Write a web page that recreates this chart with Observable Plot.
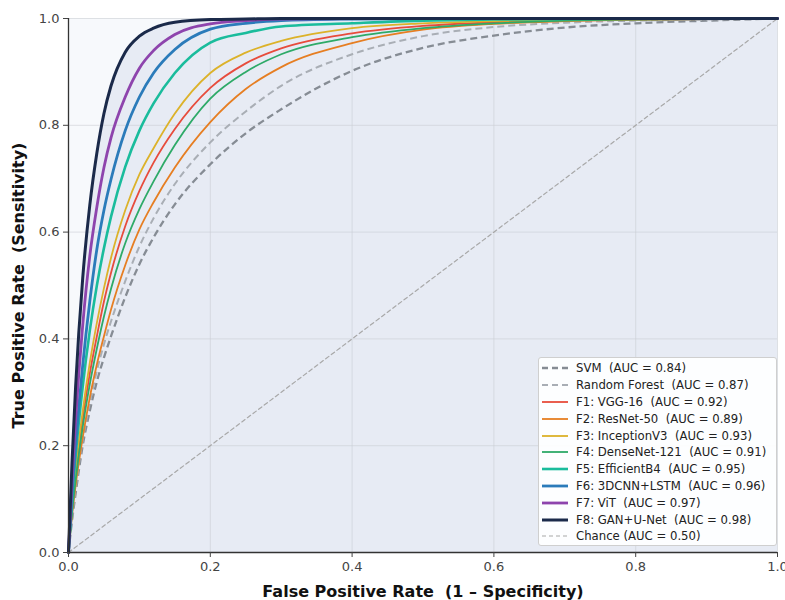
<!DOCTYPE html>
<html>
<head>
<meta charset="utf-8">
<script src="https://cdn.jsdelivr.net/npm/d3@7"></script>
<script src="https://cdn.jsdelivr.net/npm/@observablehq/plot@0.6"></script>
<style>
  body { margin: 0; background: white; font-family: "DejaVu Sans", sans-serif; }
  #wrap { position: relative; width: 785px; height: 600px; overflow: hidden; }
  #legend {
    position: absolute; left: 538px; top: 357px; width: 239px; height: 189px;
    border: 1px solid #cfcfcf; border-radius: 3px; background: rgba(255,255,255,0.92);
    padding-top: 2px; box-sizing: border-box;
  }
  .row { height: 16.8px; display: flex; align-items: center; font-size: 11.7px; color: #222; white-space: pre; }
  .row svg { margin-left: 3px; margin-right: 8px; flex: none; }
</style>
</head>
<body>
<div id="wrap"><div id="chart"></div><div id="legend"></div></div>
<script>
// False positive rate grid (x) and read-off true positive rates (y)
const fpr = [0, 0.005, 0.01, 0.02, 0.03, 0.04, 0.05, 0.06, 0.08, 0.10, 0.12, 0.15, 0.20, 0.25, 0.30, 0.40, 0.50, 0.60, 0.70, 0.80, 0.90, 1.00];
const svmTpr = [0, 0.060, 0.110, 0.200, 0.265, 0.320, 0.365, 0.405, 0.478, 0.540, 0.590, 0.652, 0.727, 0.785, 0.830, 0.902, 0.945, 0.968, 0.983, 0.991, 0.996, 1];
const rfTpr  = [0, 0.065, 0.120, 0.210, 0.280, 0.340, 0.390, 0.433, 0.508, 0.573, 0.626, 0.690, 0.768, 0.826, 0.874, 0.933, 0.967, 0.984, 0.992, 0.996, 0.998, 1];
const f1Tpr  = [0, 0.080, 0.145, 0.250, 0.335, 0.405, 0.470, 0.524, 0.611, 0.677, 0.730, 0.793, 0.870, 0.916, 0.944, 0.972, 0.986, 0.993, 0.997, 0.998, 0.999, 1];
const f2Tpr  = [0, 0.070, 0.125, 0.215, 0.290, 0.352, 0.405, 0.455, 0.538, 0.605, 0.656, 0.721, 0.806, 0.868, 0.909, 0.954, 0.979, 0.990, 0.995, 0.998, 0.999, 1];
const f3Tpr  = [0, 0.085, 0.155, 0.265, 0.355, 0.430, 0.495, 0.552, 0.641, 0.708, 0.757, 0.822, 0.898, 0.936, 0.958, 0.982, 0.991, 0.995, 0.998, 0.999, 1, 1];
const f4Tpr  = [0, 0.075, 0.135, 0.235, 0.315, 0.382, 0.442, 0.494, 0.579, 0.643, 0.695, 0.763, 0.850, 0.900, 0.933, 0.965, 0.982, 0.991, 0.996, 0.998, 0.999, 1];
const f5Tpr  = [0, 0.100, 0.180, 0.310, 0.415, 0.500, 0.570, 0.629, 0.722, 0.790, 0.841, 0.898, 0.955, 0.973, 0.985, 0.991, 0.996, 0.998, 0.999, 1, 1, 1];
const f6Tpr  = [0, 0.110, 0.200, 0.350, 0.470, 0.568, 0.641, 0.699, 0.790, 0.853, 0.898, 0.942, 0.980, 0.991, 0.996, 0.999, 1, 1, 1, 1, 1, 1];
const f7Tpr  = [0, 0.135, 0.248, 0.425, 0.555, 0.647, 0.721, 0.777, 0.853, 0.907, 0.940, 0.970, 0.990, 0.996, 0.999, 1, 1, 1, 1, 1, 1, 1];
const f8Tpr  = [0, 0.170, 0.310, 0.513, 0.650, 0.748, 0.822, 0.874, 0.937, 0.967, 0.982, 0.993, 0.998, 0.999, 1, 1, 1, 1, 1, 1, 1, 1];

const chanceFpr = [0, 1];
const chanceTpr = [0, 1];

const names = ["SVM", "Random Forest", "F1: VGG-16", "F2: ResNet-50", "F3: InceptionV3", "F4: DenseNet-121", "F5: EfficientB4", "F6: 3DCNN+LSTM", "F7: ViT", "F8: GAN+U-Net"];
const aucs = [0.84, 0.87, 0.92, 0.89, 0.93, 0.91, 0.95, 0.96, 0.97, 0.98];
const tprs = [svmTpr, rfTpr, f1Tpr, f2Tpr, f3Tpr, f4Tpr, f5Tpr, f6Tpr, f7Tpr, f8Tpr];
const colors = ["#868c94", "#a9aeb5", "#e74c3c", "#e67e22", "#dcb22a", "#2eaa68", "#1abc9c", "#2b7bba", "#8e44ad", "#1b2a4a"];
const widths = [2.3, 2.0, 1.8, 1.8, 1.8, 1.8, 2.6, 2.8, 2.8, 3.0];
const dashes = ["7,4", "7,4", null, null, null, null, null, null, null, null];
const chanceLabel = "Chance (AUC = 0.50)";
const ticks = [0, 0.2, 0.4, 0.6, 0.8, 1.0];

const series = names.map((n, i) => fpr.map((x, j) => ({fpr: x, tpr: tprs[i][j], name: n})));
const chance = chanceFpr.map((x, j) => ({fpr: x, tpr: chanceTpr[j]}));

const marks = [
  Plot.frame({fill: "#f7f9fc", stroke: null}),
  Plot.areaY(series[9], {x: "fpr", y: "tpr", fill: "#e7ebf4", curve: "monotone-x"}),
  Plot.gridX(ticks, {stroke: "#c9cdd4", strokeOpacity: 0.75, strokeWidth: 0.8}),
  Plot.gridY(ticks, {stroke: "#c9cdd4", strokeOpacity: 0.75, strokeWidth: 0.8}),
  Plot.line(chance, {x: "fpr", y: "tpr", stroke: "#a8a8a8", strokeWidth: 1.2, strokeDasharray: "4,3"})
];
series.forEach((s, i) => {
  marks.push(Plot.line(s, {x: "fpr", y: "tpr", stroke: colors[i], strokeWidth: widths[i],
    strokeDasharray: dashes[i] || undefined, curve: "monotone-x", strokeLinecap: dashes[i] ? "butt" : "round"}));
});
marks.push(
  Plot.ruleX([0], {stroke: "#333", strokeWidth: 1.3}),
  Plot.ruleY([0], {stroke: "#333", strokeWidth: 1.3}),
  Plot.axisX({ticks, tickFormat: d3.format(".1f"), tickSize: 5, fontSize: 13, color: "#444", label: null, tickPadding: 4}),
  Plot.axisY({ticks, tickFormat: d3.format(".1f"), tickSize: 5, fontSize: 13, color: "#444", label: null, tickPadding: 4}),
  Plot.axisX({ticks: [], tickSize: 0, label: "False Positive Rate  (1 – Specificity)", labelAnchor: "center", labelArrow: "none", labelOffset: 44, fontSize: 16, fontWeight: "bold", color: "#111"}),
  Plot.axisY({ticks: [], tickSize: 0, label: "True Positive Rate  (Sensitivity)", labelAnchor: "center", labelArrow: "none", labelOffset: 56, fontSize: 16, fontWeight: "bold", color: "#111"})
);

const chart = Plot.plot({
  width: 785, height: 600,
  marginLeft: 68, marginRight: 8, marginTop: 18, marginBottom: 48,
  x: {domain: [0, 1]}, y: {domain: [0, 1]},
  style: {fontFamily: "DejaVu Sans", background: "white", overflow: "visible"},
  marks
});
document.getElementById("chart").append(chart);

// Legend
const legend = document.getElementById("legend");
function addRow(label, color, width, dash) {
  const row = document.createElement("div");
  row.className = "row";
  const svg = d3.create("svg").attr("width", 26).attr("height", 10);
  svg.append("line").attr("x1", 0).attr("x2", 26).attr("y1", 5).attr("y2", 5)
    .attr("stroke", color).attr("stroke-width", width).attr("stroke-dasharray", dash);
  row.append(svg.node());
  const span = document.createElement("span");
  span.textContent = label;
  row.append(span);
  legend.append(row);
}
names.forEach((n, i) => addRow(`${n}  (AUC = ${aucs[i].toFixed(2)})`, colors[i], widths[i], dashes[i] ? "6,4" : null));
addRow(chanceLabel, "#a8a8a8", 1.2, "4,3");
</script>
</body>
</html>
